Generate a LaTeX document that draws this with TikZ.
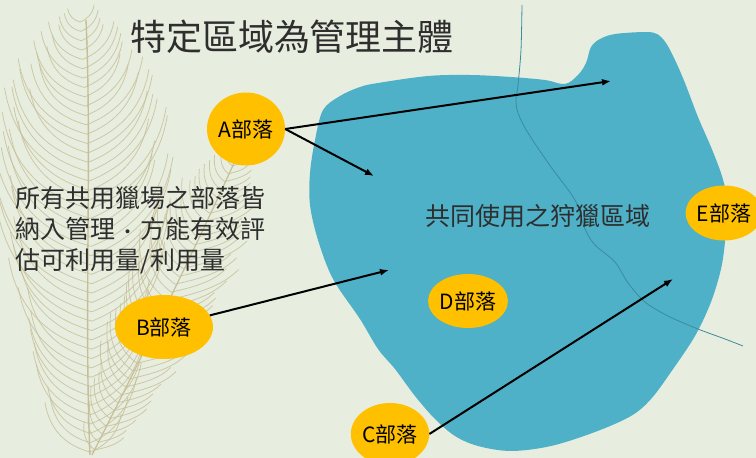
\documentclass[tikz,border=0pt]{standalone}
\usepackage{fontspec}
\setmainfont{Noto Sans CJK TC}
\usetikzlibrary{shapes.geometric,arrows.meta}
\definecolor{paper}{HTML}{E8EEDF}
\definecolor{lake}{HTML}{4EB1C8}
\definecolor{stream}{HTML}{3B8C9E}
\definecolor{tribe}{HTML}{FFC000}
\definecolor{plume}{HTML}{C6BE98}
\definecolor{ink}{HTML}{2E2E2E}
\tikzset{
  tribebox/.style={ellipse, fill=tribe, inner sep=0pt, text=black,
    font=\fontsize{21}{24}\selectfont},
  link/.style={line width=2pt, -{Latex[length=9pt,width=7pt]}},
  barb/.style={draw=plume, line width=0.8pt, opacity=0.8},
}
\begin{document}
\begin{tikzpicture}[x=1pt,y=-1pt]
\fill[paper] (0,0) rectangle (756,458);
\useasboundingbox (0,0) rectangle (756,458);
\pgfmathsetseed{7}

% upright feather
\foreach \i in {0,...,46}{
  \pgfmathsetmacro\t{\i/46}
  \pgfmathsetmacro\py{452-430*\t}
  \pgfmathsetmacro\px{90-10*\t+6*sin(180*\t)}
  \pgfmathsetmacro\w{(14+72*sin(180*(0.12+0.88*\t)))*(0.85+0.3*rnd)}
  \pgfmathsetmacro\v{(14+62*sin(180*(0.12+0.88*\t)))*(0.85+0.3*rnd)}
  \draw[barb] (\px,\py) .. controls (\px-0.55*\w,\py-0.15*\w) and (\px-0.9*\w,\py-0.5*\w) .. (\px-\w,\py-1.1*\w);
  \draw[barb] (\px,\py) .. controls (\px+0.5*\v,\py-0.2*\v) and (\px+0.85*\v,\py-0.55*\v) .. (\px+0.95*\v,\py-1.15*\v);
}
\draw[plume, line width=1.4pt] (90,455) .. controls (84,320) and (92,150) .. (86,20);

% leaning feather
\foreach \i in {0,...,38}{
  \pgfmathsetmacro\t{\i/38}
  \pgfmathsetmacro\px{95+145*\t}
  \pgfmathsetmacro\py{450-300*\t}
  \pgfmathsetmacro\w{(10+50*sin(180*(0.1+0.9*\t)))*(0.85+0.3*rnd)}
  \draw[barb] (\px,\py) .. controls (\px-0.35*\w,\py-0.25*\w) and (\px-0.45*\w,\py-0.6*\w) .. (\px-0.4*\w,\py-1.05*\w);
  \draw[barb] (\px,\py) .. controls (\px+0.45*\w,\py-0.1*\w) and (\px+0.8*\w,\py-0.2*\w) .. (\px+1.05*\w,\py-0.45*\w);
}
\draw[plume, line width=1.2pt] (92,455) .. controls (140,360) and (190,260) .. (240,150);

% shared hunting ground
\fill[lake] plot[smooth cycle, tension=0.55] coordinates {
  (323,110) (340,96) (360,87) (378,83) (428,76) (470,75) (511,77) (545,80)
  (565,84) (578,75) (586,63) (591,47) (600,39) (615,34) (645,32) (657,34)
  (666,43) (675,60) (685,83) (698,117) (711,147) (721,173) (726,193)
  (727,215) (725,242) (721,269) (711,302) (695,336) (671,372) (651,399)
  (631,416) (595,432) (551,446) (511,451) (478,446) (455,436) (435,419)
  (415,396) (395,369) (378,349) (360,319) (333,279) (318,240) (310,205)
  (310,173) (315,140)};

% stream
\draw[stream, line width=0.8pt] plot[smooth, tension=0.5] coordinates {
  (522,5) (521,50) (518,85) (516,100) (518,113) (528,133) (551,167)
  (575,200) (585,229) (595,245) (615,262) (628,283) (645,302) (668,316)
  (698,329) (725,339) (743,346)};

\node[ink, font=\fontsize{36}{40}\selectfont] (title) at (292,37) {特定區域為管理主體};
\node[ink, font=\fontsize{25}{31}\selectfont, align=left, anchor=west] (note) at (12,230)
  {所有共用獵場之部落皆\\納入管理\raisebox{-3pt}{．}方能有效評\\估可利用量/利用量};
\node[ink, font=\fontsize{25}{30}\selectfont] (area) at (538,216) {共同使用之狩獵區域};

\node[tribebox, minimum width=78pt, minimum height=73pt] (A) at (246,129) {A部落};
\node[tribebox, minimum width=98pt, minimum height=64pt] (B) at (164,327) {B部落};
\node[tribebox, minimum width=72pt, minimum height=62pt] (C) at (390,434) {C部落};
\node[tribebox, minimum width=66pt, minimum height=54pt] (D) at (468,301) {D部落};
\node[tribebox, minimum width=70pt, minimum height=55pt] (E) at (724,213) {E部落};

\coordinate (tA1) at (611,81);
\coordinate (tA2) at (374,176);
\coordinate (tB) at (389,270);
\coordinate (tC) at (673,279);

\draw[link] (A.east) -- (tA1);
\draw[link] (A.east) -- (tA2);
\draw[link] (B) -- (tB);
\draw[link] (C.east) -- (tC);
\end{tikzpicture}
\end{document}
